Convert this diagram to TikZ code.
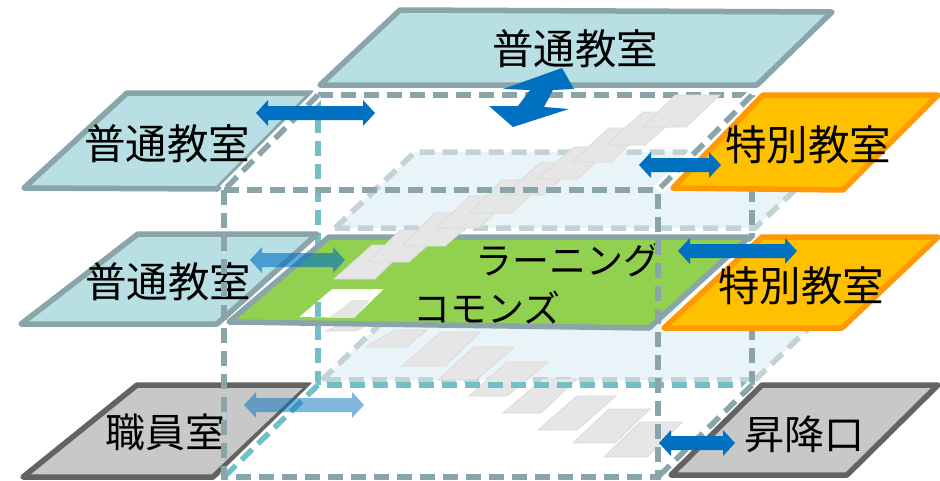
\documentclass[tikz,border=0pt]{standalone}
\usepackage{fontspec}
\setmainfont{Noto Sans CJK JP}
\definecolor{bluefill}{HTML}{B8DFE3}
\definecolor{slate}{HTML}{8AA5AA}
\definecolor{teal2}{HTML}{72BFC8}
\definecolor{orangefill}{HTML}{FFC000}
\definecolor{orangeline}{HTML}{FF9900}
\definecolor{grayfill}{HTML}{C8C8C8}
\definecolor{grayline}{HTML}{636363}
\definecolor{greenfill}{HTML}{92D050}
\definecolor{arrowblue}{HTML}{0070C0}
\definecolor{planefill}{HTML}{E8F4F7}
\definecolor{planeline}{HTML}{C3D3D5}
\definecolor{stepfill}{HTML}{E6E6E6}
\definecolor{stepline}{HTML}{DADADA}
\tikzset{
  room/.style={line width=5.5pt,line join=round},
  bluesheet/.style={room,draw=slate,fill=bluefill},
  orangesheet/.style={room,draw=orangeline,fill=orangefill},
  graysheet/.style={room,draw=grayline,fill=grayfill},
  dashes/.style={line width=5.5pt,dash pattern=on 15pt off 8pt},
  slatedash/.style={dashes,draw=slate},
  tealdash/.style={dashes,draw=teal2},
  lightdash/.style={dashes,draw=planeline},
  halo/.style={line width=11pt,draw=white},
  plane/.style={fill=planefill},
  stair/.style={fill=stepfill,draw=stepline,line width=.8pt},
  label/.style={inner sep=0pt,text=black},
  big/.style={label,font=\fontsize{41.5}{44}\selectfont},
  small/.style={label,font=\fontsize{40}{44}\selectfont},
  mid/.style={label,font=\fontsize{37}{40}\selectfont}
}
\newcommand{\dblarrow}[4]{% left x, right x, y, opacity
  \fill[arrowblue,opacity=#4] (#1,#3) -- (#1+12,#3-13) -- (#1+12,#3-7) -- (#2-12,#3-7) -- (#2-12,#3-13) -- (#2,#3)
    -- (#2-12,#3+13) -- (#2-12,#3+7) -- (#1+12,#3+7) -- (#1+12,#3+13) -- cycle;}
\begin{document}
\begin{tikzpicture}[x=1pt,y=-1pt]
\useasboundingbox (0,0) rectangle (940,480);
\fill[white] (0,0) rectangle (940,480);
% translucent floors
\fill[plane] (402,303) -- (835,303) -- (755,380) -- (322,380) -- cycle;
\fill[plane] (415,152) -- (835,152) -- (755,228) -- (335,228) -- cycle;
\draw[lightdash] (322,380) -- (402,303);
\draw[lightdash] (755,380) -- (322,380);
\draw[lightdash] (755,380) -- (835,303);
\draw[lightdash] (335,228) -- (415,152) -- (835,152);
\draw[lightdash] (335,228) -- (755,228) -- (835,152);
% lower stairs
\foreach \a/\b/\c/\d/\t/\u in {325/340/368/355/325/331,366/395/427/406/330/347,402/441/480/445/332/366,438/474/514/476/347/380,469/507/548/507/362/396,503/543/577/541/379/413,538/577/616/577/396/430,573/609/650/615/409/443,604/640/682/647/422/457}
  \draw[stair] (\a,\u) -- (\b,\t) -- (\c,\t) -- (\d,\u) -- cycle;
% back box
\fill[white] (299,317) -- (332,289) -- (384,289) -- (354,318) -- cycle;
\draw[slatedash] (318,95) -- (752,95);
\draw[slatedash] (752,95) -- (752,385);
\draw[tealdash] (318,95) -- (318,385) -- (752,385);
% top room
\draw[bluesheet] (400,10) -- (832,12) -- (757,85) -- (320,85) -- cycle;
% learning commons
\fill[greenfill,even odd rule] (329,237) -- (749,237) -- (649,328) -- (229,322) -- cycle
  (299,317) -- (332,289) -- (384,289) -- (354,318) -- cycle;
\draw[room,draw=slate] (329,237) -- (749,237) -- (649,328) -- (229,322) -- cycle;
\fill[stepfill] (330,317) -- (352,300) -- (370,300) -- (354,318) -- cycle;
% upper stairs
\foreach \a/\b/\c/\d/\t/\u in {334/372/410/375/245/279,368/400/445/409/230/262,402/435/484/445/213/246,437/470/513/479/196/228,470/502/548/511/180/213,504/540/580/543/163/195,537/574/613/577/147/179,572/609/647/611/128/162,606/643/683/645/112/145,643/675/720/686/95/127}
  \draw[stair] (\a,\u) -- (\b,\t) -- (\c,\t) -- (\d,\u) -- cycle;
% side rooms
\draw[bluesheet] (127,93) -- (312,93) -- (217,189) -- (24,188) -- cycle;
\draw[bluesheet] (138,234) -- (317,234) -- (217,324) -- (21,324) -- cycle;
\draw[graysheet] (137,385) -- (310,385) -- (213,477) -- (23,477) -- cycle;
% box diagonals with white halo
\foreach \p/\q in {318/95,752/95} {
  \draw[halo] (\p,\q) -- (\p-94,\q+95);
  \draw[slatedash] (\p,\q) -- (\p-94,\q+95);
}
\draw[halo] (752,385) -- (658,477);
\draw[slatedash] (752,385) -- (658,477);
\draw[halo] (318,385) -- (224,477);
\draw[tealdash] (318,385) -- (224,477);
% right rooms
\draw[orangesheet] (763,95) -- (938,95) -- (843,190) -- (673,188) -- cycle;
\draw[white,line width=9pt] (762,237) -- (664,328);
\draw[orangesheet] (762,237) -- (938,237) -- (842,328) -- (664,328) -- cycle;
\draw[graysheet] (762,385) -- (938,385) -- (847,475) -- (671,475) -- cycle;
% labels
\node[big] (top) at (575,49) {普通教室};
\node[big] (l1) at (167,144) {普通教室};
\node[big] (l2) at (168,282) {普通教室};
\node[small] (staff) at (165,432) {職員室};
\node[big] (r1) at (808,145) {特別教室};
\node[big] (r2) at (801,286) {特別教室};
\node[small] (lift) at (804,434) {昇降口};
\node[mid] (lc1) at (568,260) {ラーニング};
\node[mid] (lc2) at (487,308) {コモンズ};
% front box
\draw[slatedash] (224,190) -- (658,190);
\draw[slatedash] (224,190) -- (224,477) -- (658,477) -- (658,190);
% arrows
\dblarrow{256}{375}{113}{1}
\dblarrow{250}{345}{260}{.6}
\dblarrow{244}{364}{405}{.5}
\dblarrow{639}{721}{165}{1}
\dblarrow{678}{797}{251}{1}
\dblarrow{659}{735}{443}{1}
\fill[arrowblue] (562,68) -- (574,89) -- (553,90) -- (544,107) -- (569,109) -- (513,127) -- (489,106) -- (518,106) -- (530,90) -- (503,89) -- cycle;
\end{tikzpicture}
\end{document}
